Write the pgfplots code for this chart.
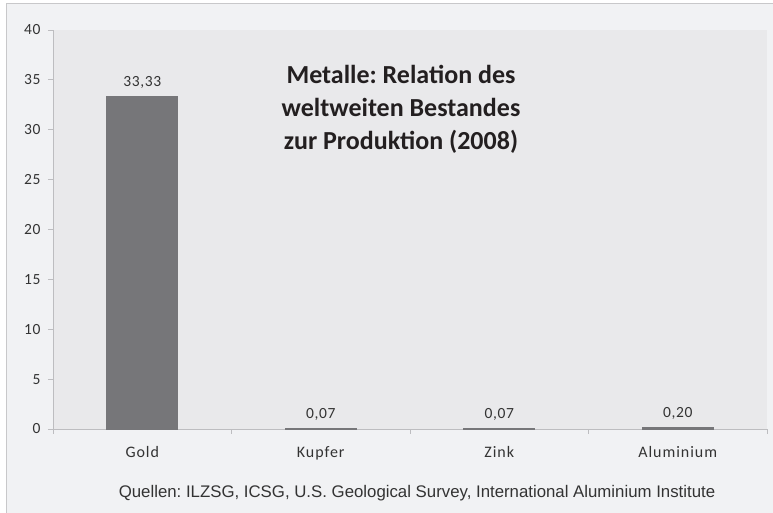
\documentclass[border=0pt]{standalone}
\usepackage{pgfplots}
\pgfplotsset{compat=1.18}
\usepackage{fontspec}
\setmainfont{Carlito}
\newfontfamily\arial{Liberation Sans}
\definecolor{outerbg}{HTML}{F1F2F4}
\definecolor{plotbg}{HTML}{E9E9EB}
\definecolor{bordercol}{HTML}{C8C8CA}
\definecolor{axiscol}{HTML}{BDBDC0}
\definecolor{barcol}{HTML}{767679}
\definecolor{textcol}{HTML}{333333}
\definecolor{titlecol}{HTML}{231F20}
\frenchspacing
\begin{document}
\begin{tikzpicture}
\path[use as bounding box] (0pt,0pt) rectangle (773pt,513pt);
\fill[outerbg] (6pt,0pt) rectangle (773pt,510pt);
\draw[bordercol, line width=1pt] (6.5pt,0pt) -- (6.5pt,509.5pt) -- (773pt,509.5pt);
\begin{axis}[
  at={(53pt,84pt)}, anchor=south west,
  scale only axis, width=714pt, height=399pt,
  xmin=-0.5, xmax=3.5, ymin=0, ymax=40,
  enlarge x limits=false,
  ytick={0,5,...,40},
  xtick={-0.5,0.5,1.5,2.5,3.5}, xticklabels={},
  extra x ticks={0,1,2,3},
  extra x tick labels={Gold,Kupfer,Zink,Aluminium},
  extra x tick style={major tick length=0pt,
    xticklabel style={font=\addfontfeatures{LetterSpace=6}\fontsize{16}{18}\selectfont, text=textcol, yshift=-14pt}},
  tick align=outside, major tick length=5pt,
  tick style={axiscol, line width=0.8pt},
  axis x line*=bottom, axis y line*=left,
  axis line style={axiscol, line width=0.8pt, -},
  axis background/.style={fill=plotbg},
  /pgf/number format/assume math mode=true,
  yticklabel style={font=\addfontfeatures{LetterSpace=4}\fontsize{15.5}{18}\selectfont, text=textcol, xshift=-4pt},
  ybar, bar width=71pt,
  nodes near coords={\pgfmathprintnumber[fixed,fixed zerofill,precision=2,use comma]{\pgfplotspointmeta}},
  nodes near coords style={font=\addfontfeatures{LetterSpace=4}\fontsize{15.5}{18}\selectfont, text=textcol, yshift=4pt},
  clip=false,
]
\addplot[fill=barcol, draw=barcol, line width=0.6pt, bar shift=0pt] coordinates {(0,33.33) (1,0.07) (2,0.07) (3,0.20)};
\end{axis}
\node[font=\bfseries\fontsize{26}{33}\selectfont, align=center, text=titlecol] at (401pt,404pt)
  {Metalle: Relation des\\weltweiten Bestandes\\zur Produktion (2008)};
\node[font=\arial\fontsize{16.8}{19}\selectfont, text=textcol] at (417pt,20pt)
  {Quellen: ILZSG, ICSG, U.S. Geological Survey, International Aluminium Institute};
\end{tikzpicture}
\end{document}
